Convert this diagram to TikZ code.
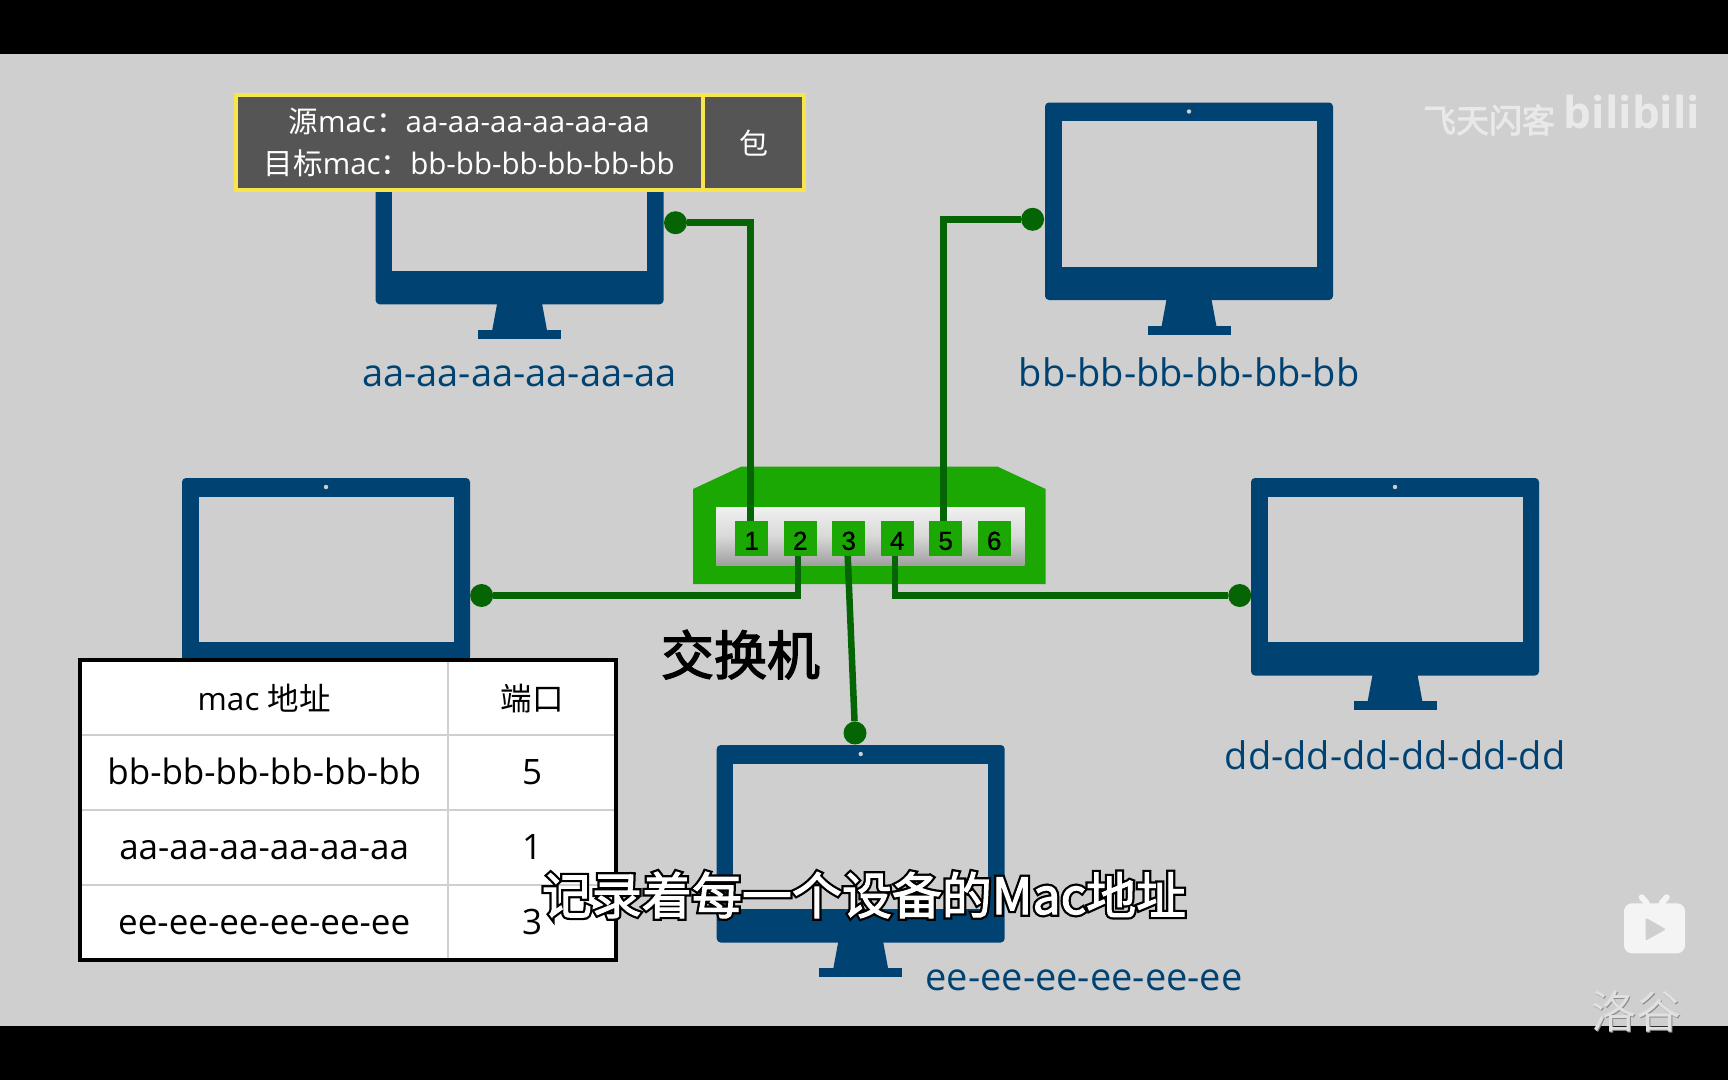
\documentclass[tikz,border=0pt]{standalone}
\usepackage{fontspec}
\setmainfont{Open Sans}
\newfontfamily\cjk{Noto Sans CJK SC}
\newfontfamily\cjkmid[FakeBold=2.5]{Noto Sans CJK SC}
\newfontfamily\cjkfill[FakeBold=2]{Noto Sans CJK SC}
\newfontfamily\cjkedge[FakeBold=11]{Noto Sans CJK SC}
\newfontfamily\sanshead[FakeBold=1]{Liberation Sans}
\newcommand{\cn}[1]{{\cjk #1}}
\newcommand{\px}[1]{\fontsize{#1}{#1}\selectfont}
\usetikzlibrary{positioning}
\definecolor{screenblue}{HTML}{004372}
\definecolor{wiregreen}{HTML}{056505}
\definecolor{switchgreen}{HTML}{1BA803}
\definecolor{paper}{HTML}{CFCFCF}
\definecolor{boxgrey}{HTML}{555555}
\definecolor{boxyellow}{HTML}{F8E44B}
\definecolor{markgrey}{HTML}{E9E9E9}

\tikzset{monitor/.pic={
  \fill[screenblue,rounded corners=4pt] (-144,0) rectangle (144,197.5);
  \fill[paper] (-127.5,18.5) rectangle (127.5,164);
  \fill[paper] (0,9) circle (2.2);
  \fill[screenblue] (-22.5,197) -- (22.5,197) -- (27.5,224) -- (-27.5,224) -- cycle;
  \fill[screenblue] (-41.5,223) rectangle (41.5,232);
}}

\begin{document}
\begin{tikzpicture}[x=1pt,y=-1pt,node distance=48.5pt,
  wire/.style={draw=wiregreen,line width=6.5pt},
  elbow/.style={to path={|- (\tikztotarget)}},
  dot node/.style={circle,fill=wiregreen,inner sep=0pt,minimum size=23pt},
  port node/.style={fill=switchgreen,inner sep=0pt,minimum width=32.7pt,minimum height=34.7pt,text height=23pt,text depth=0pt,font=\sanshead\px{26}},
  mac label/.style={text=screenblue,anchor=base,font=\px{38}},
  head box/.style={fill=boxgrey,draw=boxyellow,line width=4pt,text=white,inner sep=0pt,minimum height=95pt,outer sep=0pt},
  table cell/.style={fill=white,draw=paper,line width=2.5pt,inner sep=0pt,minimum height=75pt,text height=23pt,text depth=0pt,font=\px{35}},
  watermark/.style={text=markgrey,inner sep=0pt}]
  \useasboundingbox (0,0) rectangle (1728,1080);
  \fill[paper] (0,0) rectangle (1728,1080);
  \fill[black] (0,0) rectangle (1728,54);
  \fill[black] (0,1026) rectangle (1728,1080);

  % the five computers
  \pic at (519.6,106.8) {monitor};
  \pic at (1189,102.5) {monitor};
  \pic at (326,478) {monitor};
  \pic at (1395,478) {monitor};
  \pic at (860.7,745) {monitor};

  \node[mac label] (labelA) at (519.6,386.5) {aa-aa-aa-aa-aa-aa};
  \node[mac label] (labelB) at (1189,386.5) {bb-bb-bb-bb-bb-bb};
  \node[mac label] (labelD) at (1395,769.8) {dd-dd-dd-dd-dd-dd};
  \node[mac label] (labelE) at (1084,990.4) {ee-ee-ee-ee-ee-ee};

  % switch
  \fill[switchgreen] (693,584) -- (693,489) -- (741,466.7) -- (997.7,466.7) -- (1045.7,489) -- (1045.7,584) -- cycle;
  \shade[top color=black!6!white,bottom color=black!38!white,middle color=black!15!white] (716,507.3) rectangle (1024.7,565.3);

  \node[port node] (1) at (751.7,538.3) {1};
  \node[port node] (2) [right of=1] {2};
  \node[port node] (3) [right of=2] {3};
  \node[port node] (4) [right of=3] {4};
  \node[port node] (5) [right of=4] {5};
  \node[port node] (6) [right of=5] {6};
  \node[font=\cjkmid\px{53}] (switchname) at (740.5,654.6) {交换机};

  \node[dot node] (dotA) at (675.5,222.7) {};
  \node[dot node] (dotB) at (1032.6,219.3) {};
  \node[dot node] (dotC) at (481.6,595.5) {};
  \node[dot node] (dotD) at (1239.7,595.5) {};
  \node[dot node] (dotE) at (855,733) {};

  \path[wire]
    ([xshift=-1pt]1.north) edge [elbow] (dotA)
    ([xshift=-2pt]5.north) edge [elbow] (dotB)
    ([xshift=-2pt]2.south) edge [elbow] (dotC)
    ([xshift=-2pt]4.south) edge [elbow] (dotD)
    ([xshift=-1pt]3.south) edge (dotE);

  % frame on top of the first computer
  \node[head box,anchor=west,minimum width=467.5pt,align=center,font=\px{29.5}] (frame) at (235.5,142.6)
    {\cn{源}mac\cn{：}aa-aa-aa-aa-aa-aa\\[12pt]\cn{目标}mac\cn{：}bb-bb-bb-bb-bb-bb};
  \node[head box,minimum width=101pt,font=\cjk\px{29}] (payload) [right=0pt of frame] {包};

  % mac table
  \node[table cell,minimum width=367.6pt,text height=26pt,font=\px{31.5}] (addrhead) at (264.2,697.5) {mac \cn{地址}};
  \node[table cell,minimum width=168pt,text height=26pt,font=\px{31.5}] (porthead) at (532,697.5) {\cn{端口}};
  \foreach \addr/\nr [count=\row] in {bb-bb-bb-bb-bb-bb/5,aa-aa-aa-aa-aa-aa/1,ee-ee-ee-ee-ee-ee/3} {
    \node[table cell,minimum width=367.6pt] (addr\row) at (264.2,697.5+75*\row) {\addr};
    \node[table cell,minimum width=168pt] (nr\row) at (532,697.5+75*\row) {\nr};
  }
  \node[draw=black,line width=4pt,minimum width=535.6pt,minimum height=300pt,inner sep=0pt] (tableframe) at (348.2,810) {};

  % subtitle
  \node[text=black,font=\cjkedge\px{50}] (subedge) at (864,895) {记录着每一个设备的Mac地址};
  \node[text=white,font=\cjkfill\px{50}] (subtitle) at (864,895) {记录着每一个设备的Mac地址};

  % marks of the video site
  \node[watermark,font=\cjkmid\px{33}] (author) at (1489,120) {飞天闪客};
  \node[watermark,font=\bfseries\px{44}] (site) at (1632,112) {bilibili};
  \fill[markgrey!50!white,rounded corners=8pt] (1624,903.3) rectangle (1685,953.3);
  \draw[markgrey!50!white,line width=6pt,line cap=round] (1646.7,903) -- (1641.7,897.3) (1661.7,903) -- (1666.7,897.3);
  \fill[paper,rounded corners=2pt] (1645.7,917.7) -- (1666,929.3) -- (1645.7,940.7) -- cycle;
  \node[text=black!45!white,font=\cjk\px{45}] (brandshade) at (1637.5,1012.4) {洛谷};
  \node[text=black!12!white,font=\cjk\px{45}] (brand) at (1636.7,1011.6) {洛谷};
\end{tikzpicture}
\end{document}
